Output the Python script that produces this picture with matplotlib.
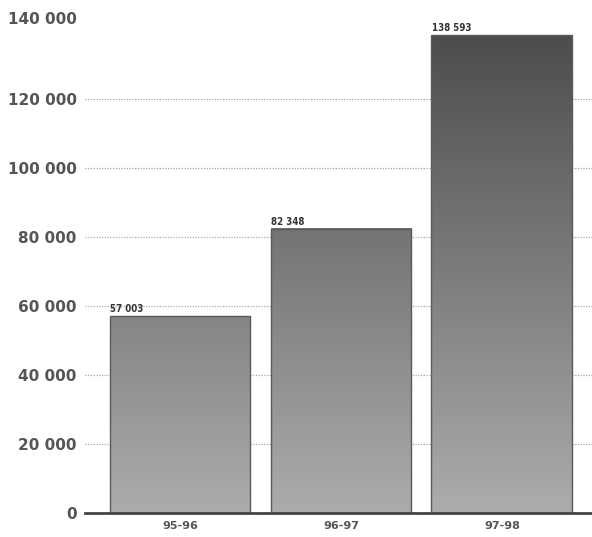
import matplotlib.pyplot as plt
import matplotlib.transforms as mtransforms
import numpy as np
from matplotlib.colors import LinearSegmentedColormap

# Data
years = ["95-96", "96-97", "97-98"]
values = [57003, 82348, 138593]
value_labels = ["57 003", "82 348", "138 593"]
yticks = [0, 20000, 40000, 60000, 80000, 100000, 120000, 140000]
ytick_labels = ["0", "20 000", "40 000", "60 000", "80 000", "100 000", "120 000", "140 000"]

fig = plt.figure(figsize=(5.92, 5.37), dpi=100)
ax = fig.add_axes([0.1436, 0.0447, 0.8564, 0.912])

x = np.arange(len(years))
width = 0.875
ymax = 142000

# gradient: light at the bottom, dark at the top (data space)
cmap = LinearSegmentedColormap.from_list("g", ["#acacac", "#4c4c4c"])

bars = ax.bar(x, values, width=width, color="none", edgecolor="#5a5a5a",
              linewidth=1.0, zorder=3)
for b, v in zip(bars, values):
    x0 = b.get_x()
    grad = np.linspace(0, v / 140000, 256).reshape(-1, 1)
    ax.imshow(grad, extent=[x0, x0 + width, 0, v], origin="lower",
              cmap=cmap, vmin=0, vmax=1, aspect="auto", zorder=2,
              interpolation="bilinear")

for b, lab in zip(bars, value_labels):
    ax.text(b.get_x() + 0.005, b.get_height() + 700, lab, ha="left", va="bottom",
            fontsize=7, color="#333333", fontweight="bold", fontstretch="condensed")

# dotted grid lines (not at the top tick)
for t in yticks[1:-1]:
    ax.axhline(t, color="#a8a8a8", linestyle=(0, (1, 1.2)), linewidth=0.9, zorder=1)

ax.set_xlim(-0.59, 2.56)
ax.set_ylim(0, ymax)
ax.set_xticks(x)
ax.set_xticklabels(years, fontsize=8, fontweight="bold", color="#555555")
ax.set_yticks(yticks)
ax.set_yticklabels(ytick_labels, fontsize=11, fontweight="bold", color="#555555")
ax.tick_params(axis="both", length=0)
ax.tick_params(axis="y", pad=6)
ax.tick_params(axis="x", pad=6)

# top label sits a little higher in the original
top_lab = ax.get_yticklabels()[-1]
top_lab.set_transform(top_lab.get_transform() +
                      mtransforms.ScaledTranslation(0, 9 / 72, fig.dpi_scale_trans))

for s in ["top", "right", "left"]:
    ax.spines[s].set_visible(False)
ax.spines["bottom"].set_color("#444444")
ax.spines["bottom"].set_linewidth(2)
ax.spines["bottom"].set_zorder(4)

fig.savefig("out.png", dpi=100)
